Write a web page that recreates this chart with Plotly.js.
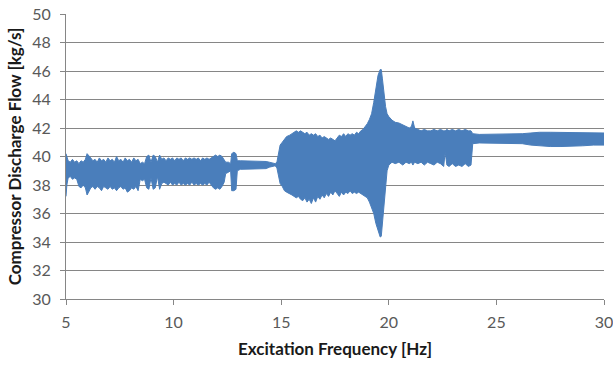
<!DOCTYPE html>
<html>
<head>
<meta charset="utf-8">
<script src="https://cdn.plot.ly/plotly-3.0.1.min.js"></script>
<style>html,body{margin:0;padding:0;background:#fff;}#chart{width:613px;height:365px;}</style>
</head>
<body>
<div id="chart"></div>
<script>
// Excitation frequency [Hz] and the envelope (max / min) of the oscillating discharge flow [kg/s]
const freq = [
  5.00, 5.04, 5.10, 5.20, 5.30, 5.40, 5.50, 5.60, 5.70, 5.80, 5.90, 5.98,
  6.05, 6.15, 6.25, 6.35, 6.45, 6.55, 6.65, 6.75, 6.85, 6.95,
  7.05, 7.15, 7.25, 7.35, 7.45, 7.55, 7.65, 7.75, 7.85, 7.95,
  8.05, 8.15, 8.25, 8.35, 8.45, 8.55, 8.65, 8.75, 8.85, 8.95,
  9.05, 9.15, 9.25, 9.35, 9.45, 9.55, 9.65, 9.75, 9.85, 9.95,
  10.05, 10.15, 10.25, 10.35, 10.45, 10.55, 10.65, 10.75, 10.85, 10.95,
  11.05, 11.15, 11.25, 11.35, 11.45, 11.55, 11.65, 11.75, 11.85, 11.95,
  12.05, 12.15, 12.25, 12.35, 12.42, 12.55, 12.65, 12.70, 12.80, 12.90, 12.96,
  13.10, 13.30, 13.50, 13.70, 13.90, 14.10, 14.30, 14.45, 14.60, 14.72, 14.80, 14.88, 14.95,
  15.05, 15.15, 15.25, 15.40, 15.50, 15.60, 15.70, 15.80, 15.90,
  16.00, 16.10, 16.20, 16.30, 16.40, 16.50, 16.60, 16.70, 16.80, 16.90,
  17.00, 17.10, 17.20, 17.30, 17.40, 17.50, 17.60, 17.70, 17.80, 17.90,
  18.00, 18.10, 18.20, 18.30, 18.40, 18.50, 18.60, 18.70, 18.80, 18.90,
  19.00, 19.10, 19.20, 19.30, 19.40, 19.50, 19.60, 19.65, 19.70, 19.78, 19.85, 19.92,
  20.00, 20.15, 20.30, 20.47, 20.65, 20.80, 20.95,
  21.05, 21.12, 21.20, 21.35, 21.50, 21.65, 21.80, 21.95,
  22.10, 22.25, 22.40, 22.55, 22.62, 22.70, 22.80, 22.95,
  23.10, 23.25, 23.40, 23.55, 23.70, 23.82, 23.90,
  24.20, 24.60, 25.00, 25.40, 25.80, 26.20, 26.60, 27.00, 27.50,
  28.00, 28.50, 29.00, 29.50, 30.00
];
const upper = [
  40.2, 40.0, 39.7, 39.6, 39.8, 39.6, 39.7, 39.5, 39.7, 39.6, 39.8, 40.2,
  40.1, 39.9, 39.7, 39.8, 39.6, 39.9, 39.7, 39.8, 39.6, 39.9,
  39.7, 39.8, 39.6, 40.0, 39.7, 39.8, 39.6, 39.9, 39.7, 39.8,
  39.6, 39.9, 39.7, 39.8, 39.5, 39.6, 39.5, 40.0, 40.1, 39.6,
  40.1, 40.0, 39.6, 40.1, 39.8, 39.9, 39.7, 39.9, 39.8, 39.9,
  39.7, 39.9, 39.8, 39.9, 39.7, 39.9, 39.8, 39.9, 39.8, 39.9,
  39.8, 39.9, 39.7, 39.9, 39.8, 39.9, 39.8, 39.9, 40.0, 40.1,
  40.0, 40.1, 40.0, 39.8, 39.6, 39.6, 39.5, 40.2, 40.3, 40.2, 39.7,
  39.7, 39.7, 39.7, 39.7, 39.7, 39.7, 39.65, 39.6, 39.55, 39.5, 39.6, 40.2, 40.8,
  41.0, 41.2, 41.4, 41.5, 41.6, 41.7, 41.8, 41.7, 41.8,
  41.7, 41.6, 41.7, 41.5, 41.6, 41.5, 41.6, 41.4, 41.5, 41.3,
  41.4, 41.3, 41.2, 41.3, 41.2, 41.1, 41.3, 41.5, 41.4, 41.6,
  41.4, 41.6, 41.5, 41.6, 41.5, 41.7, 41.6, 41.8, 41.9, 42.1,
  42.3, 42.6, 43.0, 43.8, 44.9, 45.7, 46.1, 46.1, 45.5, 44.3, 43.5, 43.0,
  42.8, 42.55, 42.4, 42.35, 42.2, 42.1, 42.0,
  42.1, 42.5, 42.0, 41.9, 41.8, 41.9, 41.8, 41.8,
  41.9, 41.8, 41.9, 41.8, 41.8, 41.9, 41.8, 41.9,
  41.8, 41.9, 41.8, 41.9, 41.8, 41.8, 41.6,
  41.55, 41.55, 41.55, 41.55, 41.55, 41.6, 41.65, 41.7, 41.7,
  41.7, 41.7, 41.7, 41.65, 41.65
];
const lower = [
  37.2, 38.0, 38.5, 38.6, 38.4, 38.5, 38.4, 37.9, 37.8, 38.0, 37.8, 37.3,
  37.5, 37.8, 37.9, 37.7, 37.9, 37.8, 37.6, 37.9, 37.8, 37.7,
  37.9, 37.7, 37.8, 37.6, 37.8, 37.9, 37.7, 37.8, 37.5, 37.6,
  37.8, 37.7, 37.9, 37.6, 38.4, 38.3, 38.4, 37.8, 37.7, 38.5,
  37.7, 37.8, 38.6, 37.7, 38.1, 38.2, 38.1, 38.0, 38.2, 38.0,
  38.1, 38.0, 38.2, 38.0, 38.1, 38.0, 38.1, 38.0, 38.2, 38.0,
  38.1, 38.0, 38.1, 38.0, 38.1, 38.0, 38.2, 38.0, 37.8, 37.7,
  37.8, 37.7, 37.9, 38.2, 38.8, 38.9, 39.0, 37.6, 37.6, 37.7, 39.0,
  39.1, 39.1, 39.1, 39.1, 39.1, 39.1, 39.15, 39.25, 39.3, 39.35, 39.2, 38.6, 38.1,
  37.9, 37.6, 37.5, 37.4, 37.3, 37.2, 37.1, 37.2, 37.0,
  36.9, 37.1, 36.8, 37.0, 36.7, 37.1, 36.8, 37.2, 37.0, 37.3,
  37.1, 37.4, 37.2, 37.5, 37.3, 37.6, 37.4, 37.2, 37.5, 37.3,
  37.5, 37.4, 37.6, 37.4, 37.5, 37.4, 37.5, 37.4, 37.3, 37.2,
  37.1, 36.8, 36.4, 36.0, 35.3, 34.8, 34.35, 34.4, 35.3, 36.6, 37.8, 39.0,
  39.4, 39.6, 39.5, 39.6, 39.4, 39.6, 39.5,
  39.6, 39.4, 39.6, 39.5, 39.6, 39.4, 39.6, 39.5,
  39.4, 39.6, 39.5, 39.3, 40.3, 39.4, 39.3, 39.5,
  39.3, 39.4, 39.3, 39.5, 39.3, 39.4, 40.9,
  40.95, 40.95, 40.95, 40.95, 40.95, 40.9, 40.8, 40.75, 40.7,
  40.7, 40.7, 40.75, 40.8, 40.8
];
const xTicks = [5, 10, 15, 20, 25, 30];
const yTicks = [30, 32, 34, 36, 38, 40, 42, 44, 46, 48, 50];

const blue = '#4A7EBB';
const traces = [
  { x: freq, y: lower, type: 'scatter', mode: 'lines',
    line: { color: blue, width: 1 }, hoverinfo: 'skip', showlegend: false },
  { x: freq, y: upper, type: 'scatter', mode: 'lines', fill: 'tonexty',
    fillcolor: blue, line: { color: blue, width: 1 }, showlegend: false }
];
const axisCommon = {
  showline: true, linecolor: '#868686', linewidth: 1,
  ticks: 'outside', ticklen: 5, tickcolor: '#868686', tickwidth: 1,
  tickfont: { family: 'Lato, Carlito, sans-serif', size: 16, color: '#595959' },
  ticklabeloverflow: 'allow',
  zeroline: false, fixedrange: true
};
const titleFont = { family: 'Lato, Carlito, sans-serif', size: 17, color: '#1a1a1a', weight: 'bold' };
const layout = {
  width: 613, height: 365,
  margin: { l: 66, r: 9, t: 14, b: 66 },
  paper_bgcolor: '#ffffff', plot_bgcolor: '#ffffff',
  showlegend: false,
  xaxis: Object.assign({}, axisCommon, {
    range: [5, 30], tickvals: xTicks, ticktext: xTicks.map(String),
    showgrid: false, ticklabelstandoff: 4,
    title: { text: 'Excitation Frequency [Hz]', standoff: 12, font: titleFont }
  }),
  yaxis: Object.assign({}, axisCommon, {
    range: [30, 50], tickvals: yTicks, ticktext: yTicks.map(String),
    showgrid: true, gridcolor: '#868686', gridwidth: 1, ticklabelstandoff: 6,
    title: { text: 'Compressor Discharge Flow [kg/s]', standoff: 6, font: titleFont }
  })
};
Plotly.newPlot('chart', traces, layout, { displayModeBar: false, staticPlot: true });
</script>
</body>
</html>
